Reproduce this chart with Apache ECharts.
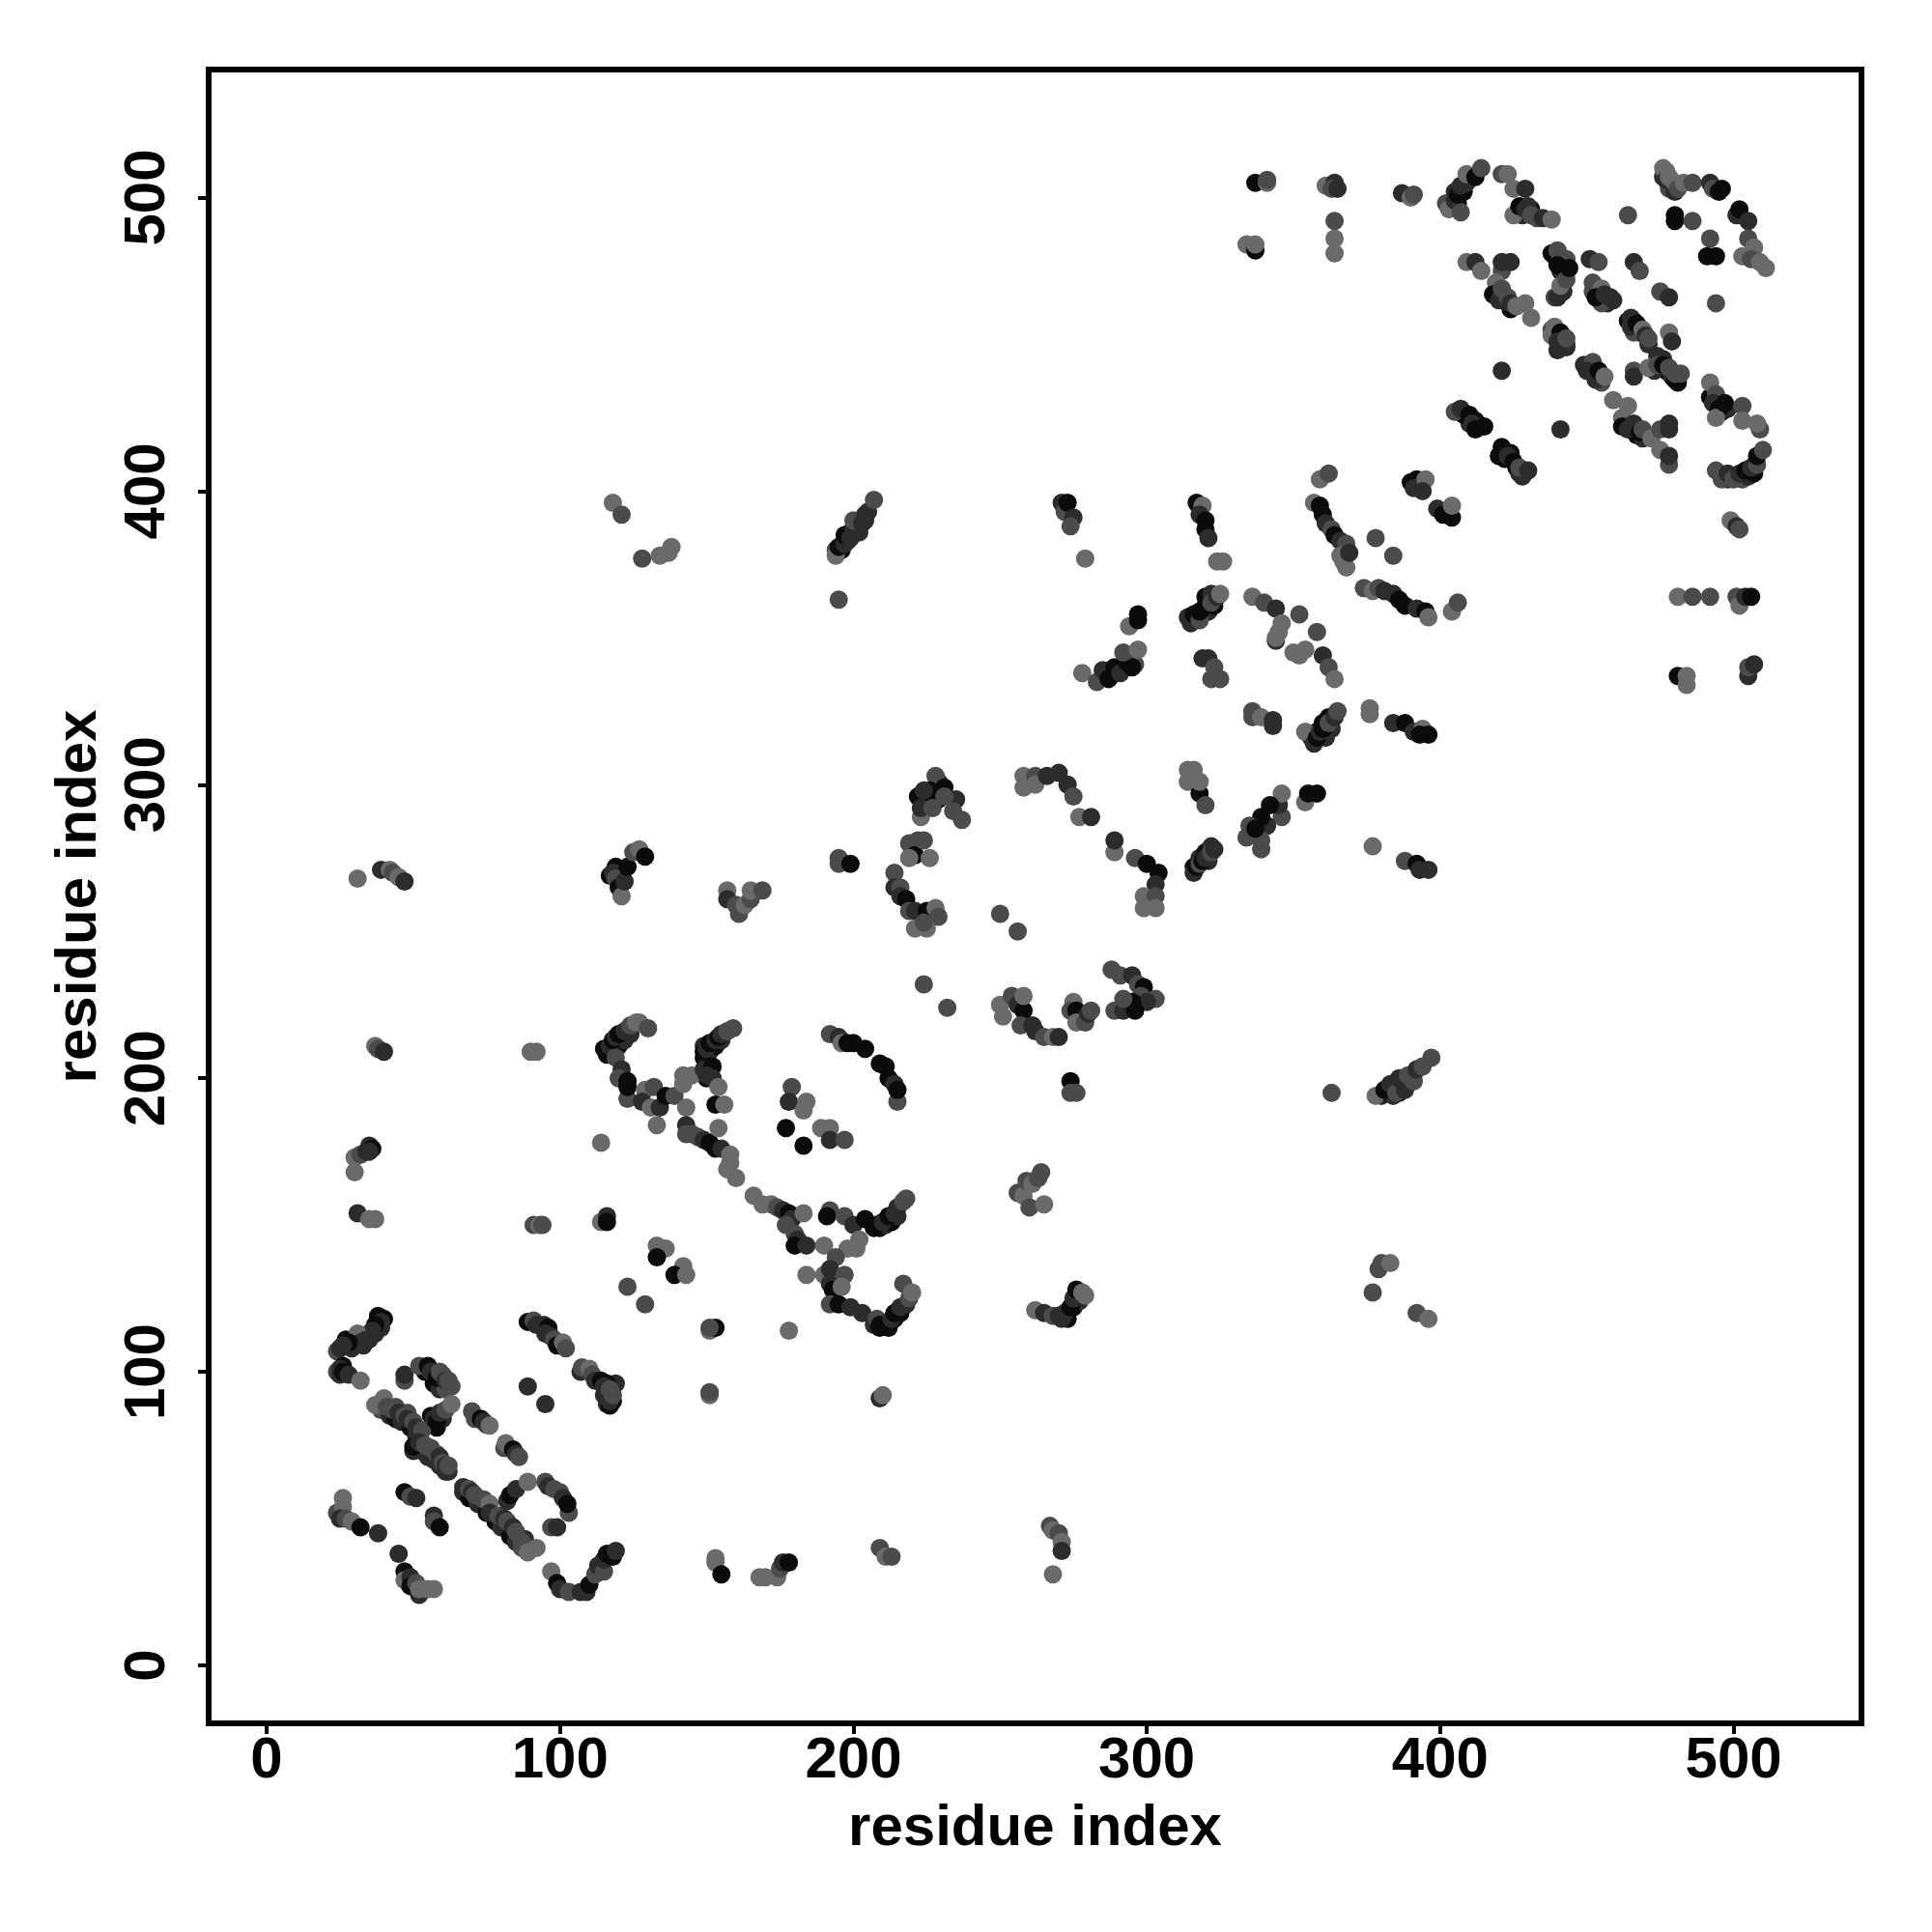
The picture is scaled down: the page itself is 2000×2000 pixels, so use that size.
<!DOCTYPE html>
<html><head><meta charset="utf-8">
<style>html,body{margin:0;padding:0;background:#fff}#c{width:2000px;height:2000px}</style>
<script src="https://cdn.jsdelivr.net/npm/echarts@6/dist/echarts.min.js"></script>
</head><body><div id="c"></div>
<script>
const tickValues = [0,100,200,300,400,500];
const axisTitle = 'residue index';
const shades = ['#0b0b0b','#2c2c2c','#4b4b4b','#6a6a6a'];
// each contact: [residue i, residue j, shade index]
const contactsDense = [
[40,118,0],[39,115,1],[37,113,1],[38,119,0],[35,111,1],[33,109,1],[29,108,1],[27,111,0],[24,107,2],[24,100,2],[26,102,0],[25,99,1],
[39,87,2],[42,85,1],[44,84,0],[46,83,1],[49,81,0],[51,78,1],[50,73,1],[53,73,1],[55,71,1],[57,70,1],[59,68,1],[61,66,1],[62,66,1],[44,88,2],[48,86,2],
[54,100,0],[57,98,1],[57,96,0],[59,94,1],[61,94,2],[56,85,0],[58,81,0],[60,84,1],
[67,59,1],[69,57,0],[72,55,1],[75,52,0],[78,49,0],[80,47,1],[83,44,0],[85,42,1],[87,40,2],[88,43,1],
[116,208,0],[118,209,1],[120,211,0],[122,213,1],[124,215,1],
[149,207,0],[151,209,1],[153,211,0],[155,213,1],[149,211,1],[150,204,1],[150,200,0],
[207,149,0],[209,149,0],[211,150,1],[213,151,0],[215,153,1],
[207,116,1],[209,115,0],[212,115,0],[214,118,0],[216,120,0],[218,123,1],
[119,96,1],[116,96,0],[118,90,0],[115,92,1],[116,89,1],
[196,380,0],[198,383,0],[199,386,0],[201,389,0],[202,386,1],[204,390,1],[194,380,2],[205,393,1],
[225,295,1],[229,295,0],[226,293,0],[229,301,1],
[316,272,0],[318,275,1],[320,277,0],[322,279,1],[321,274,1],
[356,316,1],[358,318,0],[360,321,0],[362,323,0],[363,319,1],[361,316,1],
[315,355,1],[317,357,0],[319,358,0],[321,359,1],[323,361,0],[320,364,0],[322,365,1],
[380,194,1],[382,195,0],[384,194,1],[387,198,0],[386,195,0],[389,198,1],[390,200,1],
[117,269,0],[119,272,0],[121,270,1],
[273,118,0],[275,122,0],[277,124,1],[271,118,1],
[439,480,1],[441,478,0],[441,475,1],[443,479,2],[442,468,1],[453,469,1],[455,466,0],[457,464,1],[455,464,2],
[466,458,1],[468,454,0],[464,458,0],[466,454,2],[471,450,1],[441,452,0],[443,450,1],[438,455,2],[440,448,1],
[451,441,1],[453,439,0],[455,437,2],[477,441,0],[479,439,1],[481,437,0],[473,441,1],[474,446,1],[476,445,1],
[410,423,1],[408,426,0],[412,424,0],[422,411,0],[424,413,0],[426,408,0],[428,405,1],
[465,421,0],[463,423,0],[467,419,0],[469,418,1],[476,507,1],[478,503,2],[480,502,1],
[431,496,0],[428,494,1],[405,502,1],[406,498,0],[408,502,0],[494,430,0],[496,427,0],[498,428,1],[492,432,0],
[498,404,1],[503,404,2],[505,405,1],[507,406,0]
];
const contactsLow = [
[38,118.5,0],[39,117,1],[37,116,0],[36,114,1],[35,113,1],[31,113,3],[34,111,1],[32,110,1],[28,110,0],[26,109,1],[25,108,1],[25,101,1],[26,100,0],[28,99,1],[32,97,3],
[37,88.7,3],[40,91,3],[41,88,2],[43,87,2],[45,86,1],[47,85,2],[48,84,1],[50,83,2],[51,81,1],[53,80,2],[50,74.5,0],[52,76,1],[54,75,2],[56,74,2],[58,72,2],[59,71,1],[60,69,2],[61,68,1],[62,68,2],
[47,97,2],[47,99,1],[52,102,2],[55,102,0],[56,100,1],[58,98,0],[59,100,2],[60,99,2],[61,97,1],[62,97,2],[63,95,2],[57,84,1],[58,83,0],[59,86,1],[61,87,2],[63,89,3],
[70,86.5,2],[71,84,2],[73,84,0],[75,82,1],[74,83,1],[76,81.7,3],
[81,74,2],[81.5,75.7,3],[84,73.5,0],[85,72,1],[86,71,2],
[89,117,0],[91,117.5,2],[92,116,1],[94.5,116,1],[96,115,0],[95,113,1],[97,112,1],[98,111,2],[99,109,0],[101,110,3],[102,108,2],
[107,100,1],[107.5,101.5,2],[110,101,3],[111,99,2],[112,97,1],[114,97,0],[115,95,1],[116,93,1],[117,88.5,0],[117,90,1],[117,94,2],[118,92,2],
[89,95,1],[95,89,1],
[67,60.7,1],[69,60,2],[70,59,1],[71,58,2],[74,56.5,2],[76,55,3],[76,52,1],[79,51,2],[81,50,1],[82,49,2],[84,47,1],[85,45.5,2],[87,42,2],[89,38.5,3],[92,40,3],
[82,56,1],[83,58,0],[85,60,1],[89,62.5,3],[95,62.5,2],[96,61,1],[98,60,2],[100,59,2],[101,57,1],[103,52,2],[102.5,55,0],[97,47,2],[99,47,1],
[24,52,2],[26,57,3],[26,54,3],[25,50,1],[27,50,2],[29,49,3],[32,47,0],[38,45,1],[45,38,1],[47,32,0],[47,29,3],[49,30,1],[49,27,0],[52,24,1],[51,28,2],[52,26,3],[55,26,3],[57,26,3],
[47,59,0],[49,57.5,2],[51,57,1],[57,51,1],[57,49,2],[59,47,0],
[97,32,3],[99,28,0],[100,26,1],[103,25,2],[107,25,1],[109,25,1],[110,27.5,0],[112,31,2],[113,34,1],[115,32,2],[115,36,1],[116,38,0],[118,37,0],[119,39,1],
[153,36.5,3],[153,35,3],[155,31,0],[168,30,3],[170,30,3],[174,30,3],[175,33,2],[176,35,1],[178,35,0],
[209,40,2],[211,37,3],[213,37,2],[267,47.5,2],[268,46,3],[270,45,2],[271,42,3],[271,39,1],[268,31,3],
[209,91,1],[210,92,3],[151,92,3],[151,93,2],[151,114,3],[153,115,0],[151,115,2],[91,150,2],[93,150,3],[94,150,2],
[31,154,1],[35,152,3],[37,152,3],[30,168,3],[30,173,3],[32,174,2],[34,175,1],[35,177,1],[36,176,0],[35,175,1],
[37,211,3],[38,210,2],[40,209,1],[90,209,3],[92,209,3],[31,268,3],[39,271,1],[42,271,3],[43,270,2],[45,268.5,3],[47,267,1],
[118,396,3],[121,392,2],[128,377,2],[134,378,3],[137,379,3],[138,381,3]
];
const contactsMid = [
[115,210,0],[117,211,1],[118,213,0],[119,214,1],[120,215,0],[122,216,1],[124,218,2],[126,219,3],[127,219,3],[130,217,2],[119,207,2],[121,203,1],[120,200,2],[123,193,2],[123,197,0],[123,199,0],
[129,196,3],[128,192,1],[132,197,2],[131,190,3],[134,190,1],[133,184,3],[136,194,0],[139,194,2],[143,190,3],[142,201,3],[142,198,3],[145,201,3],
[149,203,1],[152,204,0],[150,201,1],[152,200,1],[154,197,3],[153,191,0],[156,191,3],
[149,209,0],[150,210,1],[151,212,0],[153,213,1],[154,214,0],[155,215,1],[157,216,2],[159,217,2],
[143,184,1],[143,181,2],[145,181,2],[147,180,2],[149,179,1],[151,178,0],[153,176,0],[154,183,3],[155,176,1],[158,174,3],[158,171,3],[157,169,3],[160,166,3],[114,178,3],
[166,160,3],[169,157,3],[172,157,3],[174,156,2],[176,155,1],[178,154,0],[179,152,1],[177,150,2],[183,154,3],[180,147,2],[181,145,1],[180,143,0],[184,143,1],
[192,215,2],[195,214,1],[196,212,3],[198,212,0],[200,212,0],[204,210,0],[209,205,0],[211,204,0],[212,200,0],[215,192,2],[214,198,1],[215,196,0],
[179,197,2],[178,192,1],[183,189,3],[184,192,3],[177,183,0],[183,177,0],[189,183,3],[192,183,3],[192,179,1],[197,179,2],
[114,151,3],[116,153,1],[116,151,0],[133,143,3],[136,142,3],[133,139,0],[142,136,3],[139,133,0],[143,133,3],[123,129,2],[129,123,2],[178,114,3],
[190,143,3],[192,155,2],[191,153,0],[197,153,2],[200,150,1],[204,152,0],[202,145,3],[198,142,3],[201,142,3],[194,139,2],
[208,150,0],[210,151,1],[212,153,0],[214,154,1],[215,156,1],[217,158,2],[218,159,2],
[184,133,3],[190,133,3],[192,135,1],[192,130,1],[193,128,0],[197,133,2],[196,129,3],[192,123,2],[195,123,0],[199,122,1],[203,120,1],[208,118,2],[209,116,0],[211,116,0],[213,118,1],[214,120,0],[216,122,1],[217,130,2],[219,125,2],[220,127,3],
[228,303,2],[226,298,0],[231,299,0],[222,296,0],[224,298,1],[235,295,1],[223,289,3],[223,292,1],[227,292,2],[231,296,2],[234,291,2],[237,288,2],
[219,280,2],[220,278,2],[222,281,2],[221,276,0],[219,275,3],[224,281,2],[226,275,3],
[214,270,2],[214,265,1],[216,265,2],[216,262,1],[218,261,0],[219,257,2],[221,257,1],[221,251,3],[225,257,0],[228,258,3],[229,255,2],[225,251,3],[224,253,2],
[250,256,2],[256,250,2],[224,232,2],[232,224,2],
[258,303,3],[258,299,3],[262,303,2],[262,300,3],[266,303,1],[270,304,1],[273,300,1],[275,296,2],[277,289,3],[281,289,1],
[289,277,3],[289,281,1],[296,275,2],[300,273,0],[304,270,0],[303,266,1],[299,262,3],[303,262,2],[299,258,3],[303,258,3],
[314,301,3],[314,305,3],[316,305,3],[318,297,0],[318,301,3],[320,293,2],
[316,270,1],[317,272,0],[318,273,2],[319,274,0],[320,275,1],[322,277,2],[323,278,1],
[288,237,2],[291,235,2],[295,235,1],[297,232,2],[299,231,0],[298,228,2],[303,227,2],[300,226,1],[289,223,2],[292,223,1],[296,223,0],[295,226,0],[292,227,2],
[250,225,3],[251,221,3],[254,228,2],[256,225,1],[258,223,0],[258,228,3],[257,218,2],[261,218,1],[262,216,1],[265,214,2],[268,214,3],[270,214,1],
[275,226,3],[274,223,2],[276,223,0],[276,219,3],[279,219,2],[280,222,1],[281,223,2],
[274,199,0],[274,195,2],[276,195,2],[195,275,2],[195,273,2],[199,273,0],
[118,270,1],[119,268,2],[120,265,0],[121,262,3],[122,267,1],[123,272,0],[125,277,2],[127,278,3],[129,275.5,0],
[157,264,3],[157,261,1],[160,259,2],[161,256,2],[163,259,3],[165,261,2],[165,264,3],[169,264,2],
[262,121,3],[265,120,1],[268,119,2],[270,119,1],[272,120,1],[274,122,0],[275,125,1],[276,128,0],[278,127,3],[279,126,3],
[256,161,2],[258,160,3],[259,165,2],[261,164,3],[260,156,2],[263,166,2],[264,168,2],[265,157,3],
[194,378,3],[195,381,0],[197,382,1],[197,385,0],[199,384,1],[200,387,1],[200,390,2],[203,389,1],[204,392,1],[207,397,2],[195,363,2],
[271,396,1],[272,393,2],[273,396,0],[275,391,1],[274,388,2],[279,377,3]
];
const contactsUpperMid = [
[317,396,0],[319,395,3],[318,392,1],[320,390,0],[320,387,0],[321,384,1],[324,376,3],[326,376,3],
[314,357,1],[316,358,0],[318,356,2],[318,359,0],[320,361,0],[322,362,2],[324,364,1],[325,365,3],
[294,354,3],[297,358,0],[297,356,0],
[278,338,3],[283,335,2],[285,339,1],[287,336,0],[289,340,0],[291,338,1],[293,342,0],[296,341,2],[295,340,0],[292,345,2],[297,346,3],
[319,343,1],[321,343,1],[323,340,2],[322,336,2],[325,336,2],
[336,364,3],[340,362,2],[344,360,1],[352,358,2],[358,352,2],[344,349,1],[344,350,3],[345,352,3],[346,355,3],
[350,345,3],[352,344,3],[354,346,3],[360,344,1],[362,340,2],[364,336,3],
[336,325,2],[336,323,2],[339,323,3],[343,322,1],[343,320,1],
[354,318,3],[357,314,1],[358,316,0],[359,318,1],[360,319,0],[362,321,2],[364,323,1],[365,325,2],[376,326,3],[376,324,3],
[384,321,1],[388,321,0],[391,318,1],[394,319,3],[393,317,0],[396,317,0],
[359,404,3],[362,406,2],[357,396,3],[359,395,0],[360,392,0],[361,389,1],[363,387,2],[364,385,0],[366,383,1],[368,382,2],[366,378,3],[367,376,3],[368,374,3],[369,379,1],
[378,384,2],[384,378,2],
[374,367,2],[377,366,3],[379,367,2],[381,366,1],[384,365,1],[386,363,0],[388,361,0],[392,360,1],[395,359,0],[396,357,3],[404,359,3],[406,362,2],
[390,403,0],[392,404,0],[391,401,1],[395,404,3],[394,400,1],[399,394,1],[401,392,0],[404,391,0],[404,395,3],
[346,289,2],[345,293,1],[346,297,3],[342,293,0],[341,286,1],[339,289,0],[335,286,2],[334,282,2],[339,281,2],[337,285,0],[339,278,2],
[354,294,3],[355,297,0],[358,297,0],[377,279,3],
[388,274,2],[392,273,0],[393,271,1],[396,271,1],
[378,194,3],[381,196,0],[383,198,1],[385,195,2],[386,200,1],[388,196,1],[389,201,2],[391,199,2],[392,203,1],[394,204,2],[397,207,2],[363,195,2],
[377,127,2],[379,135,2],[380,137,2],[383,137,3],[392,120,2],[396,118,3],
[337,505,0],[341,505,3],[341,506,2],[334,484,3],[337,482,0],[337,484,3],
[361,504,3],[364,505,1],[363,503,2],[365,503,1],[364,492,2],[364,486,3],[364,481,3],[387,501.5,1],[390,500,3],[391,501,2]
];
const contactsHigh = [
[402,498,2],[403,496,3],[405,499,1],[407,495,2],[406,501,0],[407,504,1],[409,505,1],[409,508,3],[412,507,0],[414,510,2],
[421,508,2],[423,508,3],[425,503,3],[429,503,1],
[425,494,3],[427,497,0],[429,496,1],[430,497,1],[431,494,2],[433,493,2],[435,493,1],[438,492.5,3],
[409,478,3],[412,478,1],[414,475,3],[421,475,2],[421,478,1],[424,478,1],
[419,471,3],[418,467,0],[420,465,1],[421,469,2],[424,462,0],[423,466,2],[424,464,1],[426,463,3],[429,464,3],[431,459,3],
[438,481,0],[440,482,2],[441,480,2],[440,477,0],[439,466,2],[440,466,1],[441,470,3],[443,472,2],[444,476,0],
[451,479,1],[454,478,2],[466,478,1],[468,475,2],
[452,471,2],[452,468,2],[455,469,3],[453,466,0],[456,467,1],[458,466,1],[459,465,1],[475,468,2],[478,466,1],
[465,459,1],[465,456,1],[467,457,0],[469,455,3],[470,453,1],[471,452,2],[478,454,3],[479,451,1],
[439,456,3],[438,453,3],[441,454,0],[440,451,1],[443,449,1],[443,452,2],
[449,443,1],[452,444,2],[450,441,1],[453,438,1],[454,441,0],[456,439,3],
[466,441,2],[466,439,1],[471,442,3],[474,443,2],[476,443,0],[480,438,0],[478,442,2],[480,440,2],[482,440,2],
[421,441,1],[441,421,1],
[492,437,3],[494,433,2],[493,430,1],[495,428,0],[494,425,3],[497,430,0],[503,429,2],[503,424,3],[509,421,2],[508,423,3],
[459,431,3],[464,429,3],[462,425,3],[462,422,0],[464,421,1],[466,423,1],[468,420,0],[469,421,2],[472,418,3],[475,421,2],[478,421,1],[478,423,1],[475,414,3],[478,409,2],[478,412,1],
[476,510,3],[477,509,3],[477,506,1],[478,507,3],[480,505,3],[481,503,2],[483,505,3],[486,505,2],[492,505,1],[493,503,2],[495,502,0],[496,503,0],
[501,494,1],[502,496,0],[505,492,1],[480,494,0],[480,492,0],[486,492,2],[492,486,2],[491,480,0],[494,480,0],[464,494,2],
[505,486,2],[503,480,3],[507,483,3],[506,479,2],[509,478,3],[511,476,3],[494,464,2],
[405,427,2],[407,428,1],[410,426,0],[411,423,1],[412,421,0],[415,422,0],
[421,415,0],[420,412,0],[423,412,1],[425,410,0],[427,406,1],[427,408,2],[430,407,1],
[494,407,2],[496,404,2],[498,406,1],[500,404,2],[502,406,1],[504,407,0],[506,408,1],[508,409,2],[508,412,0],[510,414,2],
[499,390,3],[501,388,1],[502,387,2],
[481,364,3],[486,364,2],[492,364,2],[501,364,2],[502,361,3],[504,364,1],[506,364,0],
[481,337,0],[484,334,3],[484,337,3],[505,337,1],[505,340,2],[507,341,1]
];
const contacts = [].concat(contactsDense, contactsLow, contactsMid, contactsUpperMid, contactsHigh);

const font = {fontFamily:'"Liberation Sans",Arial,sans-serif',fontWeight:'bold',fontSize:60,color:'#000'};
function axis(extra){
  return Object.assign({
    type:'value',min:-19.76,max:543.6,
    name:axisTitle,nameLocation:'middle',nameTextStyle:font,nameMoveOverlap:false,
    splitLine:{show:false},axisLine:{show:true,onZero:false,lineStyle:{color:'#000',width:6}},
    axisTick:{show:true,length:11,customValues:tickValues,lineStyle:{color:'#000',width:4}},
  },extra);
}
const chart = echarts.init(document.getElementById('c'),null,{renderer:'canvas'});
chart.setOption({
  animation:false,backgroundColor:'#fff',
  grid:{left:216,top:72,width:1711,height:1712,show:true,borderWidth:6,borderColor:'#000',backgroundColor:'transparent'},
  xAxis:axis({nameGap:79,axisLabel:Object.assign({customValues:tickValues,margin:9},font)}),
  yAxis:axis({nameGap:104,axisLabel:Object.assign({customValues:tickValues,rotate:90,margin:63},font,{align:'center',verticalAlign:'middle'})}),
  series:[{type:'scatter',symbol:'circle',symbolSize:19,data:contacts,large:false,
    itemStyle:{color:p=>shades[p.data[2]],opacity:1,borderWidth:0},emphasis:{disabled:true}}]
});
</script></body></html>
